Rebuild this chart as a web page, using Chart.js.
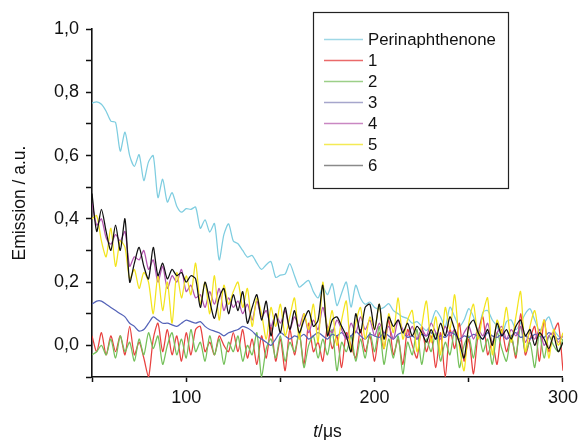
<!DOCTYPE html>
<html>
<head>
<meta charset="utf-8">
<script src="https://cdn.jsdelivr.net/npm/chart.js@4/dist/chart.umd.min.js"></script>
<style>
  html, body { margin: 0; padding: 0; background: #ffffff; }
  #wrap { width: 583px; height: 440px; position: relative; }
</style>
</head>
<body>
<div id="wrap"><canvas id="c" width="583" height="440"></canvas></div>
<script>
// time axis (µs)
const tValues = [
  50, 52.5, 55, 57.5, 60, 62.5, 65, 67.5, 70, 72.5,
  75, 77.5, 80, 82.5, 85, 87.5, 90, 92.5, 95, 97.5,
  100, 102.5, 105, 107.5, 110, 112.5, 115, 117.5, 120, 122.5,
  125, 127.5, 130, 132.5, 135, 137.5, 140, 142.5, 145, 147.5,
  150, 152.5, 155, 157.5, 160, 162.5, 165, 167.5, 170, 172.5,
  175, 177.5, 180, 182.5, 185, 187.5, 190, 192.5, 195, 197.5,
  200, 202.5, 205, 207.5, 210, 212.5, 215, 217.5, 220, 222.5,
  225, 227.5, 230, 232.5, 235, 237.5, 240, 242.5, 245, 247.5,
  250, 252.5, 255, 257.5, 260, 262.5, 265, 267.5, 270, 272.5,
  275, 277.5, 280, 282.5, 285, 287.5, 290, 292.5, 295, 297.5,
  300
];

const seriesNames = ["Perinaphthenone", "1", "2", "3", "4", "5", "6"];

const perinaphthenone = [
  0.766, 0.77, 0.762, 0.74, 0.709, 0.705, 0.614, 0.674, 0.6, 0.566,
  0.603, 0.521, 0.58, 0.6, 0.467, 0.525, 0.453, 0.483, 0.44, 0.421,
  0.432, 0.43, 0.437, 0.37, 0.397, 0.358, 0.385, 0.27, 0.35, 0.384,
  0.33, 0.321, 0.3, 0.279, 0.284, 0.26, 0.24, 0.255, 0.265, 0.215,
  0.222, 0.225, 0.258, 0.22, 0.184, 0.195, 0.205, 0.17, 0.15, 0.184,
  0.16, 0.195, 0.126, 0.165, 0.2, 0.121, 0.19, 0.15, 0.13, 0.137,
  0.12, 0.115, 0.12, 0.132, 0.11, 0.1, 0.09, 0.085, 0.07, 0.075,
  0.06, 0.047, 0.07, 0.11, 0.09, 0.058, 0.121, 0.09, 0.06, 0.08,
  0.116, 0.09, 0.047, 0.105, 0.11, 0.08, 0.06, 0.03, 0.075, 0.08,
  0.05, 0.07, 0.1, 0.116, 0.08, 0.047, 0.07, 0.09, 0.05, 0.03,
  0.016
];

const series1 = [
  0.03, -0.02, 0.04, -0.03, 0.03, -0.02, 0.03, -0.03, 0.06, -0.03,
  0.01, -0.04, -0.10, 0.02, 0.07, -0.02, 0.05, -0.03, 0.03, -0.05,
  0.04, -0.03, 0.05, 0.06, -0.02, 0.01, -0.03, 0.03, 0.00, -0.02,
  0.04, -0.02, 0.05, -0.04, 0.02, -0.06, 0.03, -0.04, 0.06, -0.05,
  0.02, -0.08, 0.05, -0.03, 0.04, -0.06, 0.07, -0.02, 0.01, -0.05,
  0.06, -0.01, 0.03, -0.07, 0.04, 0.00, -0.04, 0.05, -0.02, 0.03,
  -0.05, 0.04, -0.01, 0.08, -0.03, 0.02, -0.06, 0.05, 0.00, -0.04,
  0.06, -0.02, 0.03, -0.07, 0.04, -0.10, 0.05, -0.01, 0.07, -0.05,
  0.02, -0.09, 0.04, 0.09, -0.03, 0.01, -0.06, 0.05, -0.02, 0.03,
  -0.04, 0.10, -0.03, 0.02, 0.06, -0.05, 0.08, -0.02, 0.04, 0.07,
  -0.08
];

const series2 = [
  -0.03, -0.02, 0.00, -0.03, 0.02, -0.04, 0.03, -0.02, 0.01, -0.05,
  0.02, -0.03, 0.04, -0.01, 0.03, -0.06, 0.00, 0.04, -0.03, 0.02,
  -0.04, 0.05, -0.02, 0.01, -0.05, 0.03, -0.03, 0.02, -0.06, 0.01,
  -0.02, 0.03, -0.05, 0.00, -0.03, 0.04, -0.10, -0.01, 0.02, -0.04,
  0.03, -0.05, 0.01, -0.02, 0.04, -0.07, 0.00, 0.03, -0.04, 0.02,
  -0.03, 0.05, -0.08, 0.01, -0.02, 0.03, -0.05, 0.02, -0.04, 0.04,
  -0.02, 0.06, -0.06, 0.02, -0.04, 0.03, -0.09, 0.01, -0.03, 0.05,
  -0.06, 0.02, -0.02, 0.04, -0.05, 0.01, -0.03, 0.05, -0.07, 0.00,
  0.03, -0.04, 0.05, -0.02, 0.02, -0.06, 0.04, -0.01, -0.05, 0.03,
  -0.03, 0.06, -0.02, 0.01, -0.07, 0.04, -0.04, 0.03, 0.00, -0.02,
  0.02
];

const series3 = [
  0.13, 0.14, 0.14, 0.13, 0.12, 0.11, 0.10, 0.09, 0.07, 0.06,
  0.045, 0.05, 0.07, 0.09, 0.08, 0.07, 0.07, 0.065, 0.06, 0.07,
  0.08, 0.075, 0.07, 0.075, 0.06, 0.05, 0.045, 0.04, 0.03, 0.04,
  0.045, 0.05, 0.06, 0.055, 0.045, 0.03, 0.02, 0.01, 0.0, 0.02,
  0.04, 0.03, 0.02, 0.03, 0.025, 0.035, 0.02, 0.03, 0.04, 0.03,
  0.02, 0.035, 0.03, 0.04, 0.025, 0.03, 0.045, 0.03, 0.02, 0.035,
  0.03, 0.025, 0.04, 0.03, 0.02, 0.035, 0.04, 0.025, 0.03, 0.02,
  0.035, 0.03, 0.04, 0.02, 0.03, 0.025, 0.04, 0.035, 0.02, 0.03,
  0.025, 0.035, 0.03, 0.02, 0.04, 0.03, 0.025, 0.035, 0.02, 0.03,
  0.04, 0.025, 0.03, 0.02, 0.035, 0.03, 0.025, 0.04, 0.03, 0.02,
  0.03
];

const series4 = [
  0.45, 0.38, 0.40, 0.34, 0.32, 0.35, 0.33, 0.36, 0.25, 0.28,
  0.27, 0.30, 0.24, 0.27, 0.20, 0.25, 0.18, 0.22, 0.20, 0.24,
  0.17, 0.19, 0.15, 0.16, 0.12, 0.17, 0.13, 0.18, 0.11, 0.15,
  0.12, 0.14, 0.10, 0.13, 0.08, 0.14, 0.09, 0.11, 0.06, 0.10,
  0.07, 0.11, 0.05, 0.09, 0.06, 0.10, 0.04, 0.08, 0.05, 0.12,
  0.06, 0.04, 0.08, 0.05, 0.02, 0.07, 0.04, 0.09, 0.05, 0.08,
  0.03, 0.07, 0.04, 0.06, 0.02, 0.08, 0.05, 0.03, 0.06, 0.02,
  0.05, 0.03, 0.07, 0.04, 0.02, 0.06, 0.03, 0.05, 0.01, 0.04,
  0.06, 0.02, 0.05, 0.03, 0.07, 0.01, 0.04, 0.06, 0.02, 0.05,
  0.03, 0.06, 0.01, 0.04, 0.02, 0.05, 0.00, 0.03, 0.04, 0.01,
  0.03
];

const series5 = [
  0.40, 0.41, 0.33, 0.28, 0.37, 0.25, 0.33, 0.31, 0.21, 0.24,
  0.18, 0.23, 0.20, 0.10, 0.22, 0.11, 0.20, 0.07, 0.23, 0.15,
  0.22, 0.16, 0.26, 0.13, 0.20, 0.10, 0.22, 0.08, 0.19, 0.13,
  0.17, 0.20, 0.12, 0.18, 0.06, 0.15, 0.10, 0.02, 0.12, 0.06,
  0.13, 0.03, 0.09, 0.15, 0.02, 0.10, 0.05, 0.13, 0.01, 0.20,
  0.04, 0.11, 0.00, 0.08, 0.14, -0.02, 0.07, 0.12, 0.02, 0.09,
  0.05, 0.13, -0.01, 0.10, 0.04, 0.15, 0.02, 0.08, 0.11, -0.02,
  0.06, 0.14, 0.01, 0.09, -0.03, 0.12, 0.05, 0.16, 0.00, -0.08,
  0.07, 0.13, 0.02, 0.10, 0.15, -0.03, 0.08, 0.04, 0.12, 0.01,
  0.09, 0.17, -0.02, 0.06, 0.11, 0.03, 0.08, -0.04, 0.05, 0.00,
  0.04
];

const series6 = [
  0.48, 0.36, 0.43, 0.36, 0.30, 0.38, 0.30, 0.40, 0.20, 0.26,
  0.31, 0.25, 0.21, 0.31, 0.22, 0.26, 0.21, 0.24, 0.22, 0.23,
  0.20, 0.22, 0.21, 0.12, 0.20, 0.14, 0.085, 0.15, 0.18, 0.10,
  0.16, 0.11, 0.17, 0.07, 0.12, 0.16, 0.08, 0.14, 0.03, 0.10,
  0.04, 0.12, 0.05, 0.11, 0.04, 0.08, 0.11, 0.06, 0.08, 0.19,
  0.03, 0.08, 0.09, 0.06, 0.03, -0.02, 0.10, 0.04, 0.12, 0.13,
  0.05, 0.13, 0.02, 0.09, 0.06, 0.08, 0.04, 0.07, 0.03, 0.06,
  0.04, 0.01, 0.05, 0.02, 0.07, 0.03, 0.09, 0.05, 0.01, -0.04,
  0.06, 0.08, 0.04, 0.02, 0.05, 0.00, 0.07, 0.03, 0.05, 0.02,
  0.06, 0.08, 0.03, 0.05, 0.00, 0.04, 0.02, -0.01, 0.03, -0.02,
  0.01
];

const seriesColors = ["#7ecde0", "#e8413f", "#74c05a", "#5463b8", "#b354b0", "#f3e41c", "#111111"];
const legendLineColors = ["#9fd8e6", "#ea6a6a", "#9ccf88", "#a6a6cc", "#c987c2", "#f4ea55", "#8a8a8a"];

const allSeries = [perinaphthenone, series1, series2, series3, series4, series5, series6];

const datasets = allSeries.map((vals, k) => ({
  label: seriesNames[k],
  data: tValues.map((t, i) => ({ x: t, y: vals[i] })),
  borderColor: seriesColors[k],
  backgroundColor: seriesColors[k],
  borderWidth: 1.25,
  pointRadius: 0,
  tension: 0.25,
  fill: false,
  order: allSeries.length - 1 - k
}));

const FONT = "'Liberation Sans', Arial, sans-serif";

const customPlugin = {
  id: 'custom',
  afterDraw(chart) {
    const ctx = chart.ctx;
    const area = chart.chartArea;
    ctx.save();
    // legend box
    const bx = 313, by = 12, bw = 195, bh = 176;
    ctx.fillStyle = '#ffffff';
    ctx.fillRect(bx, by, bw, bh);
    ctx.strokeStyle = '#222222';
    ctx.lineWidth = 1.2;
    ctx.strokeRect(bx + 0.5, by + 0.5, bw, bh);
    ctx.font = "16.8px " + FONT;
    ctx.textBaseline = 'middle';
    ctx.textAlign = 'left';
    chart.data.datasets.forEach((ds, k) => {
      const y = by + 27.5 + k * 21;
      ctx.strokeStyle = legendLineColors[k];
      ctx.lineWidth = 1.3;
      ctx.beginPath();
      ctx.moveTo(bx + 11, y);
      ctx.lineTo(bx + 50, y);
      ctx.stroke();
      ctx.fillStyle = '#111111';
      ctx.fillText(ds.label, bx + 55, y + 1);
    });
    // x axis title: italic t + /μs
    const cx = (area.left + area.right) / 2;
    const yb = 437;
    ctx.textBaseline = 'alphabetic';
    ctx.font = "italic 17.5px " + FONT;
    const w1 = ctx.measureText('t').width;
    ctx.font = "17.5px " + FONT;
    const w2 = ctx.measureText('/μs').width;
    const start = cx - (w1 + w2) / 2;
    ctx.fillStyle = '#111111';
    ctx.font = "italic 17.5px " + FONT;
    ctx.fillText('t', start, yb);
    ctx.font = "17.5px " + FONT;
    ctx.fillText('/μs', start + w1, yb);
    ctx.restore();
  }
};

new Chart(document.getElementById('c'), {
  type: 'line',
  data: { datasets },
  options: {
    responsive: false,
    animation: false,
    events: [],
    layout: { padding: { left: 0, top: 29, right: 17, bottom: 0 } },
    plugins: {
      legend: { display: false },
      tooltip: { enabled: false }
    },
    scales: {
      x: {
        type: 'linear',
        min: 50,
        max: 300,
        afterFit(scale) { scale.height = 63; },
        border: { display: true, color: '#111111', width: 1.6 },
        grid: { display: true, drawOnChartArea: false, drawTicks: true, tickLength: 5, tickColor: '#111111', tickWidth: 1.5 },
        ticks: {
          stepSize: 50,
          autoSkip: false,
          maxRotation: 0,
          padding: 5,
          color: '#111111',
          font: { family: FONT, size: 18 },
          callback: (v) => (v % 100 === 0 ? String(v) : '')
        },
        title: { display: false }
      },
      y: {
        type: 'linear',
        min: -0.1,
        max: 1.0,
        afterFit(scale) { scale.width = 92; },
        border: { display: true, color: '#111111', width: 1.6 },
        grid: { display: true, drawOnChartArea: false, drawTicks: true, tickLength: 6, tickColor: '#111111', tickWidth: 1.5 },
        ticks: {
          stepSize: 0.1,
          autoSkip: false,
          padding: 7,
          color: '#111111',
          font: { family: FONT, size: 18 },
          callback: (v) => {
            const n = Math.round(v * 10);
            if (n % 2 !== 0) return '';
            return (n / 10).toFixed(1).replace('.', ',');
          }
        },
        title: {
          display: true,
          text: 'Emission / a.u.',
          color: '#111111',
          font: { family: FONT, size: 17.5 },
          padding: { top: 10, bottom: 0 }
        }
      }
    }
  },
  plugins: [customPlugin]
});
</script>
</body>
</html>
